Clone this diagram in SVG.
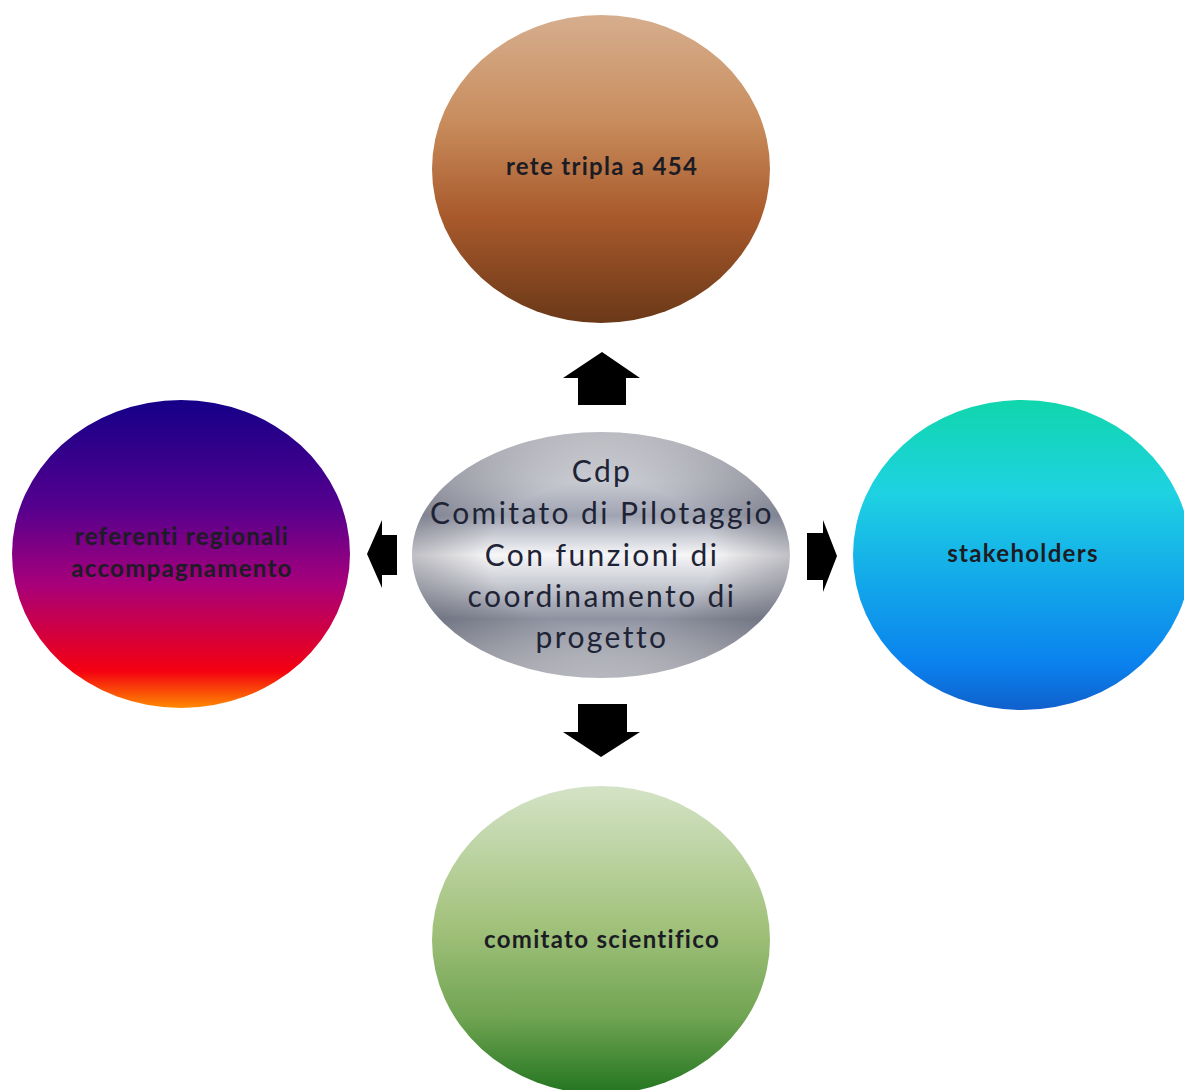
<svg xmlns="http://www.w3.org/2000/svg" width="1184" height="1090" viewBox="0 0 1184 1090">
  <defs>
    <linearGradient id="gTop" x1="0" y1="0" x2="0" y2="1">
      <stop offset="0" stop-color="#d6ae8e"/>
      <stop offset="0.35" stop-color="#c88c5c"/>
      <stop offset="0.65" stop-color="#a95a2c"/>
      <stop offset="1" stop-color="#6a3818"/>
    </linearGradient>
    <linearGradient id="gLeft" x1="0" y1="0" x2="0" y2="1">
      <stop offset="0" stop-color="#150088"/>
      <stop offset="0.35" stop-color="#55008e"/>
      <stop offset="0.6" stop-color="#a8007a"/>
      <stop offset="0.88" stop-color="#f40010"/>
      <stop offset="1" stop-color="#ff8a00"/>
    </linearGradient>
    <linearGradient id="gRight" x1="0" y1="0" x2="0" y2="1">
      <stop offset="0" stop-color="#10d6ac"/>
      <stop offset="0.3" stop-color="#1ed2e2"/>
      <stop offset="0.6" stop-color="#12a6ea"/>
      <stop offset="0.85" stop-color="#0a82ee"/>
      <stop offset="1" stop-color="#1060cc"/>
    </linearGradient>
    <linearGradient id="gBottom" x1="0" y1="0" x2="0" y2="1">
      <stop offset="0" stop-color="#d4e3c6"/>
      <stop offset="0.45" stop-color="#a3c27c"/>
      <stop offset="0.75" stop-color="#70a452"/>
      <stop offset="1" stop-color="#237520"/>
    </linearGradient>
    <linearGradient id="gCenter" x1="0" y1="0" x2="0" y2="1">
      <stop offset="0" stop-color="#eeeef2"/>
      <stop offset="0.2" stop-color="#c8cad2"/>
      <stop offset="0.34" stop-color="#a0a4b2"/>
      <stop offset="0.5" stop-color="#f6f6f8"/>
      <stop offset="0.62" stop-color="#c8cad2"/>
      <stop offset="0.76" stop-color="#8e92a0"/>
      <stop offset="0.9" stop-color="#c4c6ce"/>
      <stop offset="1" stop-color="#e8e8ee"/>
    </linearGradient>
    <radialGradient id="gShade" cx="0.5" cy="0.5" r="0.5">
      <stop offset="0.6" stop-color="#000" stop-opacity="0"/>
      <stop offset="1" stop-color="#202030" stop-opacity="0.25"/>
    </radialGradient>
  </defs>
  <style>
    .lbl { font-family: Lato, "Open Sans", "Liberation Sans", sans-serif; font-weight: bold; font-size: 24px; letter-spacing: 1.3px; fill: #1c1c24; text-anchor: middle; }
    .ctr { font-family: Lato, "Open Sans", "Liberation Sans", sans-serif; font-size: 30px; letter-spacing: 2.4px; fill: #1e2436; text-anchor: middle; }
    .arrow { fill: #000; }
  </style>
  <rect width="1184" height="1090" fill="#ffffff"/>

  <g id="node-top">
    <ellipse cx="601" cy="169" rx="169" ry="154" fill="url(#gTop)"/>
    <text class="lbl" x="602" y="175">rete tripla a 454</text>
  </g>
  <g id="node-left">
    <ellipse cx="181" cy="554" rx="169" ry="154" fill="url(#gLeft)"/>
    <text class="lbl" x="182" y="545">referenti regionali</text>
    <text class="lbl" x="182" y="577">accompagnamento</text>
  </g>
  <g id="node-right">
    <ellipse cx="1022" cy="555" rx="169" ry="155" fill="url(#gRight)"/>
    <text class="lbl" x="1023" y="562">stakeholders</text>
  </g>
  <g id="node-bottom">
    <ellipse cx="601" cy="940" rx="169" ry="154" fill="url(#gBottom)"/>
    <text class="lbl" x="602" y="948">comitato scientifico</text>
  </g>
  <g id="node-center">
    <ellipse cx="601" cy="555" rx="189" ry="123" fill="url(#gCenter)"/>
    <ellipse cx="601" cy="555" rx="189" ry="123" fill="url(#gShade)"/>
    <text class="ctr" x="602" y="482">Cdp</text>
    <text class="ctr" x="602" y="524">Comitato di Pilotaggio</text>
    <text class="ctr" x="602" y="566">Con funzioni di</text>
    <text class="ctr" x="602" y="607">coordinamento di</text>
    <text class="ctr" x="602" y="648">progetto</text>
  </g>

  <g id="connectors">
    <polygon class="arrow" points="602,352 640,378 626,378 626,405 578,405 578,378 563,378"/>
    <polygon class="arrow" points="601,757 640,732 627,732 627,704 578,704 578,732 563,732"/>
    <polygon class="arrow" points="367,554 382,520 382,535 397,535 397,575 382,575 382,588"/>
    <polygon class="arrow" points="837,556 823,520 823,533 807,533 807,580 823,580 823,592"/>
  </g>
</svg>
